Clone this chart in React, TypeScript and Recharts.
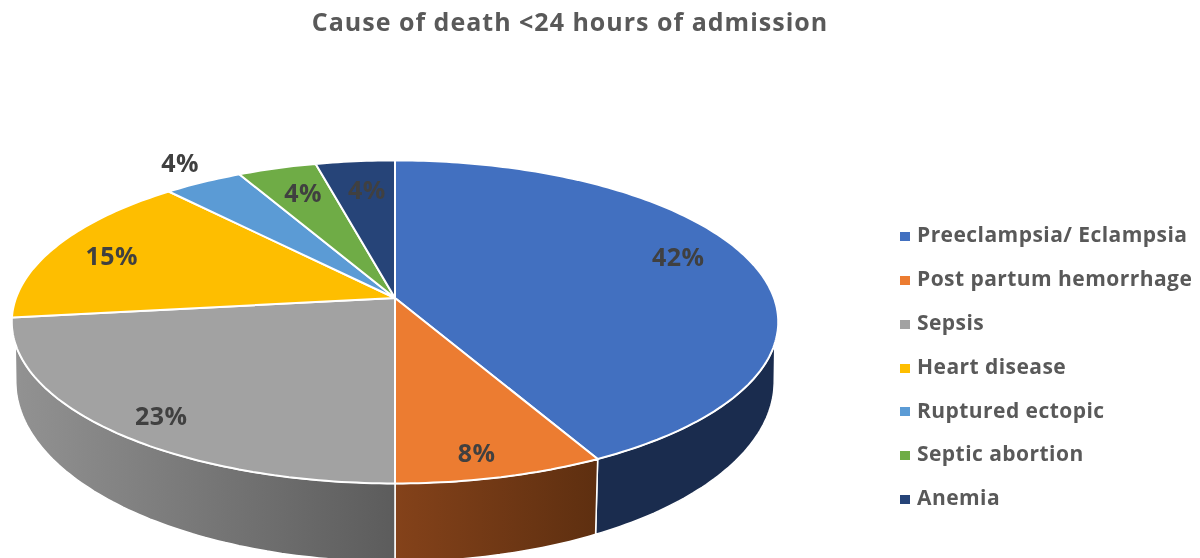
import { Legend, Pie, PieChart } from 'recharts';

const CAUSES = [
  'Preeclampsia/ Eclampsia',
  'Post partum hemorrhage',
  'Sepsis',
  'Heart disease',
  'Ruptured ectopic',
  'Septic abortion',
  'Anemia',
];
const DEATHS = [11, 2, 6, 4, 1, 1, 1];
const COLORS = ['#4270c0', '#ec7c31', '#a2a2a2', '#febe00', '#5b9bd5', '#6fac46', '#264478'];
const WALL_FROM = ['#1a2c4e', '#84421a', '#929292'];
const WALL_TO = ['#1a2c4e', '#5e2f10', '#5c5c5c'];

const chartData = CAUSES.map((name, i) => ({ name, value: DEATHS[i], fill: COLORS[i] }));

const FONT = '"Open Sans", sans-serif';
const CX = 395;
const CY = 298;
const RADIUS = 379;
// perspective of the tilted disc
const TILT = 158;
const PERSP = 0.148;
// the lower rim of the disc
const RIM_RADIUS = 375;
const RIM_CY = 355;
const RIM_TILT = 176;

// nudges so the percent labels sit where the original has them
const LABEL_SHIFT = [[32, -16], [11, 35], [-43, 27], [-44, -5], [-76, -52], [-6, -12], [1, -9]];

const rad = (deg: number) => (deg * Math.PI) / 180;

// clock = degrees clockwise from 12 o'clock, r = fraction of the radius
function topPoint(clock: number, r = 1) {
  const w = 1 + PERSP * r * Math.cos(rad(clock));
  return [CX + (RADIUS * r * Math.sin(rad(clock))) / w, CY - (TILT * r * Math.cos(rad(clock))) / w];
}

function rimPoint(clock: number) {
  const w = 1 + PERSP * Math.cos(rad(clock));
  return [CX + (RIM_RADIUS * Math.sin(rad(clock))) / w, RIM_CY - (RIM_TILT * Math.cos(rad(clock))) / w];
}

function arc(from: number, to: number, at: (clock: number) => number[]) {
  const pts: string[] = [];
  const n = Math.max(2, Math.ceil(Math.abs(to - from)));
  for (let i = 0; i <= n; i++) {
    const p = at(from + ((to - from) * i) / n);
    pts.push(`${p[0].toFixed(1)} ${p[1].toFixed(1)}`);
  }
  return pts;
}

function TiltedSlice(props: any) {
  const { startAngle, endAngle, fill, name } = props;
  const start = 90 - startAngle;
  const end = 90 - endAngle;
  const idx = CAUSES.indexOf(name);

  // only the front of the disc shows its wall
  const topFrom = Math.max(start, 106);
  const topTo = Math.min(end, 254);
  const rimFrom = start <= 106 ? 99 : start;
  const rimTo = end >= 254 ? 261 : end;
  const hasWall = idx < WALL_FROM.length && topTo > topFrom;

  const top = ['M', CX, CY, 'L', arc(start, end, topPoint).join(' L '), 'Z'].join(' ');
  const wall = hasWall
    ? `M ${arc(topFrom, topTo, topPoint).join(' L ')} L ${arc(rimTo, rimFrom, rimPoint).join(' L ')} Z`
    : '';

  return (
    <g>
      {hasWall && (
        <>
          <defs>
            <linearGradient id={`wall-${idx}`} x1="0" y1="0" x2="1" y2="0">
              <stop offset="0%" stopColor={WALL_FROM[idx]} />
              <stop offset="100%" stopColor={WALL_TO[idx]} />
            </linearGradient>
          </defs>
          <path d={wall} fill={`url(#wall-${idx})`} stroke="#fff" strokeWidth={1.5} strokeLinejoin="round" />
        </>
      )}
      <path d={top} fill={fill} stroke="#fff" strokeWidth={2} strokeLinejoin="round" />
    </g>
  );
}

function PercentLabel(props: any) {
  const { midAngle, percent, index } = props;
  const [x, y] = topPoint(90 - midAngle, 0.7);
  const [dx, dy] = LABEL_SHIFT[index];
  return (
    <text
      x={x + dx}
      y={y + dy}
      textAnchor="middle"
      dominantBaseline="central"
      fontFamily={FONT}
      fontSize={25}
      fontWeight={700}
      letterSpacing={0.5}
      fill="#404040"
    >
      {`${Math.round(percent * 100)}%`}
    </text>
  );
}

function CauseLegend({ payload }: any) {
  return (
    <div style={{ fontFamily: FONT, fontSize: 21, fontWeight: 700, letterSpacing: 0.45, color: '#595959' }}>
      {(payload || []).map((item: any) => (
        <div key={item.value} style={{ height: 43.9, lineHeight: '43.9px', whiteSpace: 'nowrap' }}>
          <span
            style={{
              display: 'inline-block',
              width: 10,
              height: 9,
              marginRight: 7,
              verticalAlign: 'middle',
              background: item.color,
            }}
          />
          <span>{item.value}</span>
        </div>
      ))}
    </div>
  );
}

export default function App() {
  return (
    <div style={{ position: 'absolute', left: 0, top: 0, width: 1200, height: 558, overflow: 'hidden', background: '#fff', filter: 'blur(0.7px)' }}>
      <PieChart width={1200} height={558} margin={{ top: 0, right: 0, bottom: 0, left: 0 }}>
        <text
          x={570}
          y={21}
          textAnchor="middle"
          dominantBaseline="central"
          fontFamily={FONT}
          fontSize={25}
          fontWeight={700}
          letterSpacing={1}
          fill="#595959"
        >
          Cause of death &lt;24 hours of admission
        </text>
        <Pie
          data={chartData}
          dataKey="value"
          nameKey="name"
          cx={CX}
          cy={CY}
          outerRadius={RADIUS}
          startAngle={90}
          endAngle={-270}
          stroke="none"
          shape={TiltedSlice}
          label={PercentLabel}
          labelLine={false}
          isAnimationActive={false}
        />
        <Legend
          layout="vertical"
          content={CauseLegend}
          itemSorter={null}
          wrapperStyle={{ position: 'absolute', left: 900, top: 213, width: 300, bottom: 'auto' }}
        />
      </PieChart>
    </div>
  );
}
